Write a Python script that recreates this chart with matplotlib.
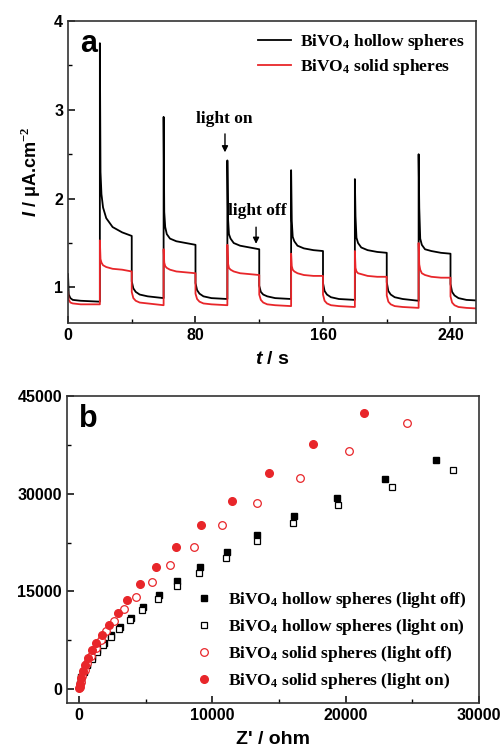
import numpy as np
import matplotlib
matplotlib.use("Agg")
import matplotlib.pyplot as plt

plt.rcParams['mathtext.fontset'] = 'custom'
plt.rcParams['mathtext.rm'] = 'Liberation Serif:bold'
plt.rcParams['mathtext.bf'] = 'Liberation Serif:bold'
plt.rcParams['mathtext.it'] = 'Liberation Sans:italic:bold'

# ---------------- panel a : photocurrent vs time ----------------
t_start = [0, 0.5, 1.5, 3, 8, 20]
hollow_start = [1.15, 0.92, 0.88, 0.86, 0.85, 0.84]
solid_start = [0.95, 0.86, 0.83, 0.82, 0.81, 0.81]

on_times = [20, 60, 100, 140, 180, 220]
cycle_offsets = [0, 0, 0.4, 1, 2, 4, 8, 14, 20, 20, 21, 22.5, 25, 30, 40]

hollow_cycles = [
    [0.84, 3.75, 2.30, 2.05, 1.90, 1.78, 1.68, 1.62, 1.58, 1.07, 0.99, 0.95, 0.92, 0.90, 0.88],
    [0.88, 2.92, 1.85, 1.68, 1.60, 1.55, 1.52, 1.50, 1.48, 1.05, 0.97, 0.93, 0.90, 0.88, 0.87],
    [0.87, 2.43, 1.78, 1.60, 1.55, 1.50, 1.47, 1.45, 1.43, 1.02, 0.95, 0.92, 0.90, 0.88, 0.87],
    [0.87, 2.32, 1.75, 1.57, 1.52, 1.47, 1.44, 1.42, 1.41, 1.05, 0.96, 0.92, 0.89, 0.87, 0.86],
    [0.86, 2.22, 1.80, 1.56, 1.50, 1.45, 1.42, 1.40, 1.39, 1.06, 0.96, 0.92, 0.89, 0.87, 0.85],
    [0.85, 2.50, 1.90, 1.55, 1.48, 1.43, 1.41, 1.39, 1.38, 1.04, 0.95, 0.91, 0.88, 0.86, 0.85],
]
solid_cycles = [
    [0.81, 1.53, 1.32, 1.28, 1.25, 1.23, 1.21, 1.20, 1.18, 0.95, 0.88, 0.85, 0.83, 0.82, 0.80],
    [0.80, 1.43, 1.28, 1.24, 1.22, 1.20, 1.18, 1.17, 1.16, 0.93, 0.87, 0.84, 0.82, 0.81, 0.80],
    [0.80, 1.48, 1.27, 1.22, 1.20, 1.18, 1.16, 1.15, 1.14, 0.92, 0.86, 0.83, 0.81, 0.80, 0.79],
    [0.79, 1.38, 1.24, 1.20, 1.18, 1.16, 1.14, 1.13, 1.13, 0.92, 0.85, 0.82, 0.80, 0.79, 0.78],
    [0.78, 1.41, 1.22, 1.18, 1.16, 1.15, 1.13, 1.12, 1.12, 0.91, 0.84, 0.81, 0.79, 0.78, 0.77],
    [0.77, 1.50, 1.26, 1.20, 1.16, 1.14, 1.12, 1.11, 1.11, 0.90, 0.83, 0.80, 0.78, 0.77, 0.76],
]

t_a = list(t_start)
hollow_a = list(hollow_start)
solid_a = list(solid_start)
for t0, hc, sc in zip(on_times, hollow_cycles, solid_cycles):
    t_a += [t0 + o for o in cycle_offsets]
    hollow_a += hc
    solid_a += sc

# ---------------- panel b : Nyquist plot ----------------
hoff_x = [26800, 22950, 19375, 16150, 13375, 11075, 9050, 7375, 5975, 4825, 3875, 3075, 2400, 1850, 1350, 950, 625, 375, 175, 50]
hoff_y = [35120, 32310, 29400, 26530, 23720, 21110, 18760, 16560, 14470, 12580, 10940, 9460, 8230, 7110, 6030, 4910, 3830, 2810, 1790, 820]
hon_x = [28050, 23450, 19425, 16050, 13350, 11025, 9000, 7350, 5950, 4750, 3800, 3000, 2375, 1825, 1350, 950, 625, 375, 175, 50]
hon_y = [33640, 30980, 28270, 25510, 22750, 20140, 17890, 15900, 13900, 12170, 10580, 9150, 7920, 6800, 5730, 4650, 3630, 2610, 1580, 660]
soff_x = [24600, 20275, 16575, 13375, 10750, 8625, 6850, 5450, 4275, 3375, 2650, 2050, 1625, 1250, 925, 625, 425, 250, 125, 50]
soff_y = [40900, 36600, 32460, 28630, 25150, 21880, 19020, 16460, 14160, 12220, 10430, 8900, 7520, 6290, 5110, 3990, 2970, 1940, 1020, 300]
son_x = [21400, 17550, 14250, 11475, 9175, 7300, 5800, 4600, 3600, 2900, 2250, 1725, 1300, 950, 675, 450, 300, 175, 75, 25]
son_y = [42480, 37680, 33130, 28940, 25200, 21830, 18760, 16100, 13750, 11660, 9870, 8330, 7060, 5930, 4750, 3730, 2710, 1690, 820, 150]

fig = plt.figure(figsize=(5.01, 7.52), dpi=100)
tick_font = dict(family='Liberation Sans', weight='bold', size=11.5)
leg_font = dict(family='Liberation Serif', weight='bold', size=12.5)

def style_axes(ax):
    for s in ax.spines.values():
        s.set_linewidth(1.2)
        s.set_color('#333333')
    ax.tick_params(which='both', direction='in', top=False, right=False)
    ax.tick_params(which='major', length=5, width=1.1)
    ax.tick_params(which='minor', length=3, width=1.0)
    for lab in ax.get_xticklabels() + ax.get_yticklabels():
        lab.set_fontproperties(matplotlib.font_manager.FontProperties(**tick_font))

ax1 = fig.add_axes([0.1357, 0.5705, 0.8144, 0.4016])
ax1.plot(t_a, hollow_a, color='black', lw=1.3, label='BiVO$_4$ hollow spheres')
ax1.plot(t_a, solid_a, color='#e8262a', lw=1.3, label='BiVO$_4$ solid spheres')
ax1.set_xlim(0, 256)
ax1.set_ylim(0.6, 4)
ax1.set_xticks([0, 80, 160, 240])
ax1.set_xticks([40, 120, 200], minor=True)
ax1.set_yticks([1, 2, 3, 4])
ax1.set_yticks([1.5, 2.5, 3.5], minor=True)
style_axes(ax1)
ax1.set_xlabel('$\\mathit{t}$ / s', family='Liberation Sans', weight='bold', size=14, labelpad=6)
ax1.set_ylabel('$\\mathit{I}$ / \u03bcA.cm$^{-2}$', family='Liberation Sans', weight='bold', size=13, labelpad=8)
ax1.text(0.03, 0.975, 'a', transform=ax1.transAxes, ha='left', va='top',
         family='Liberation Sans', weight='bold', size=22)
ax1.legend(loc='upper right', frameon=False, prop=leg_font, handlelength=1.9,
           borderaxespad=0.25, labelspacing=0.3, handletextpad=0.5)
ax1.annotate('', xy=(98.5, 2.49), xytext=(98.5, 2.76),
             arrowprops=dict(arrowstyle='-|>', color='black', lw=1.0, mutation_scale=9))
ax1.text(98, 2.9, 'light on', ha='center', va='center', **leg_font)
ax1.annotate('', xy=(118, 1.46), xytext=(118, 1.71),
             arrowprops=dict(arrowstyle='-|>', color='black', lw=1.0, mutation_scale=9))
ax1.text(118.5, 1.86, 'light off', ha='center', va='center', **leg_font)

ax2 = fig.add_axes([0.1337, 0.0652, 0.822, 0.408])
ax2.plot(hoff_x, hoff_y, 's', color='black', ms=4.5, label='BiVO$_4$ hollow spheres (light off)')
ax2.plot(hon_x, hon_y, 's', mfc='white', mec='black', mew=0.9, ms=4.5, label='BiVO$_4$ hollow spheres (light on)')
ax2.plot(soff_x, soff_y, 'o', mfc='white', mec='#e8262a', mew=0.9, ms=5.5, label='BiVO$_4$ solid spheres (light off)')
ax2.plot(son_x, son_y, 'o', color='#e8262a', ms=5.5, label='BiVO$_4$ solid spheres (light on)')
ax2.set_xlim(-900, 30000)
ax2.set_ylim(-2150, 45000)
ax2.set_xticks([0, 10000, 20000, 30000])
ax2.set_xticks([5000, 15000, 25000], minor=True)
ax2.set_yticks([0, 15000, 30000, 45000])
ax2.set_yticks([7500, 22500, 37500], minor=True)
style_axes(ax2)
ax2.set_xlabel("Z' / ohm", family='Liberation Sans', weight='bold', size=14, labelpad=6)
ax2.text(0.03, 0.975, 'b', transform=ax2.transAxes, ha='left', va='top',
         family='Liberation Sans', weight='bold', size=22)
ax2.legend(loc='lower right', frameon=False, prop=leg_font, handlelength=1.2,
           borderaxespad=0.3, labelspacing=0.4)

fig.savefig('out.png', dpi=100)
